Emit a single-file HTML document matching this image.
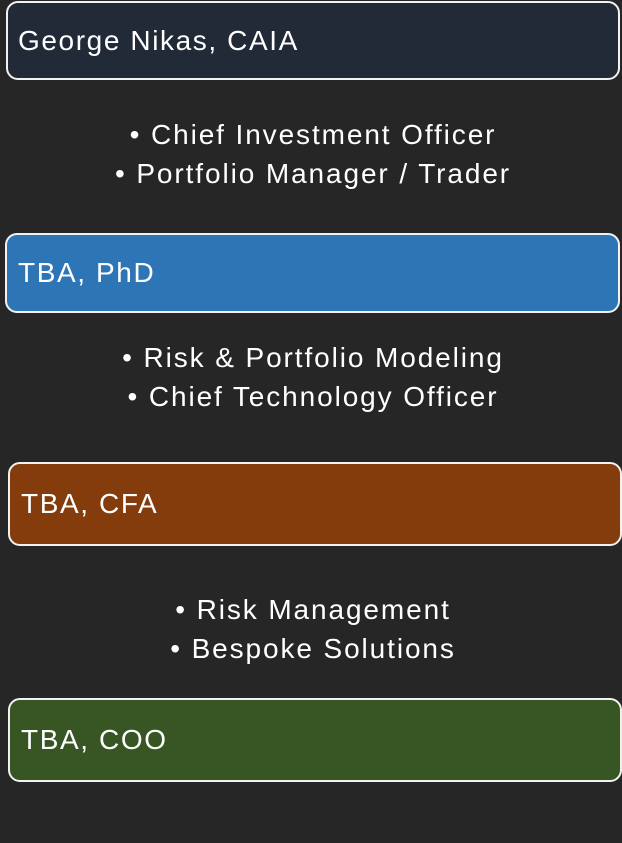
<!DOCTYPE html>
<html><head><meta charset="utf-8"><style>
html,body{margin:0;padding:0}
body{width:622px;height:843px;background:#262626;position:relative;overflow:hidden;font-family:"Liberation Sans",sans-serif;color:#fff}
.box{position:absolute;border:2px solid #f2f2f2;border-radius:12px;box-sizing:border-box;font-size:28px;letter-spacing:1.6px;display:flex;align-items:center;padding-left:11px}
.txt{position:absolute;left:0;width:626px;text-align:center;font-size:28px;letter-spacing:1.9px;line-height:39px}
</style></head><body>
<div class="box" style="left:6px;top:1px;width:614px;height:79px;background:#222a38;padding-left:10px">George Nikas, CAIA</div>
<div class="txt" style="top:115px">• Chief Investment Officer<br>• Portfolio Manager / Trader</div>
<div class="box" style="left:5px;top:233px;width:615px;height:80px;background:#2e75b6">TBA, PhD</div>
<div class="txt" style="top:338px">• Risk &amp; Portfolio Modeling<br>• Chief Technology Officer</div>
<div class="box" style="left:8px;top:462px;width:614px;height:84px;background:#843c0c">TBA, CFA</div>
<div class="txt" style="top:590px">• Risk Management<br>• Bespoke Solutions</div>
<div class="box" style="left:8px;top:698px;width:614px;height:84px;background:#375623">TBA, COO</div>
</body></html>
